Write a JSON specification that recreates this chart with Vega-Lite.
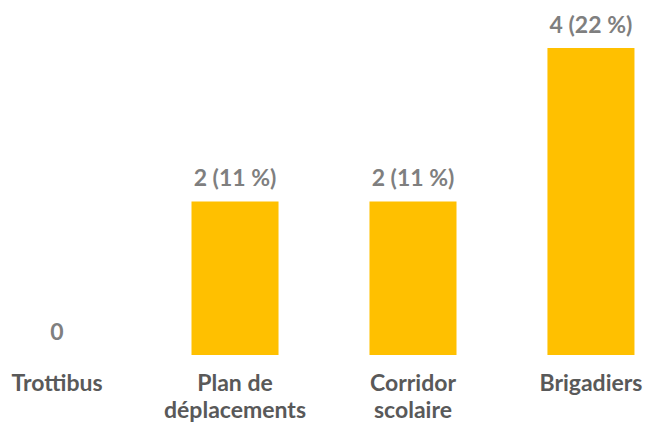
{
  "$schema": "https://vega.github.io/schema/vega-lite/v6.json",
  "width": 648,
  "height": 355,
  "autosize": {"type": "none"},
  "padding": {"top": 0, "left": 0, "right": 0, "bottom": 73},
  "background": "white",
  "view": {"stroke": null},
  "data": {
    "values": [
      {"categorie": "Trottibus", "nombre": 0, "etiquette": "0"},
      {"categorie": "Plan de\ndéplacements", "nombre": 2, "etiquette": "2 (11 %)"},
      {"categorie": "Corridor\nscolaire", "nombre": 2, "etiquette": "2 (11 %)"},
      {"categorie": "Brigadiers", "nombre": 4, "etiquette": "4 (22 %)"}
    ]
  },
  "encoding": {
    "x": {
      "field": "categorie",
      "type": "nominal",
      "sort": null,
      "scale": {"paddingInner": 0.511, "paddingOuter": 0.076},
      "axis": {
        "title": null,
        "domain": false,
        "ticks": false,
        "labelAngle": 0,
        "labelExpr": "split(datum.label, '\\n')",
        "labelFont": "Lato",
        "labelFontSize": 23,
        "labelFontWeight": "bold",
        "labelColor": "#595959",
        "labelPadding": 17,
        "labelLineHeight": 27,
        "labelBaseline": "top"
      }
    },
    "y": {
      "field": "nombre",
      "type": "quantitative",
      "scale": {"domain": [0, 4.625], "nice": false},
      "axis": null
    }
  },
  "layer": [
    {"mark": {"type": "bar", "color": "#FFC000"}},
    {
      "mark": {
        "type": "text",
        "baseline": "bottom",
        "dy": -10,
        "font": "Lato",
        "fontSize": 23,
        "fontWeight": "bold",
        "color": "#7F7F7F"
      },
      "encoding": {"text": {"field": "etiquette"}}
    }
  ]
}
